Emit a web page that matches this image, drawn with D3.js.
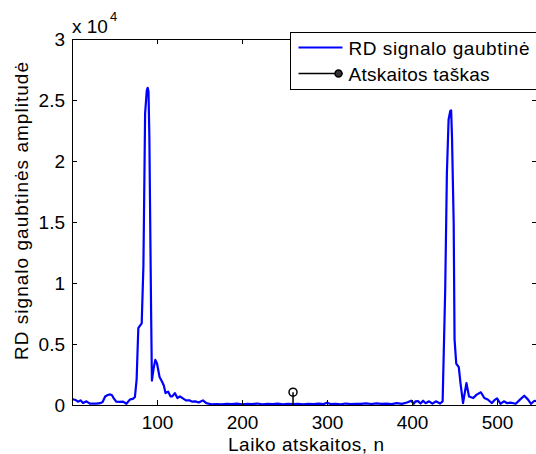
<!DOCTYPE html>
<html>
<head>
<meta charset="utf-8">
<script src="https://cdn.jsdelivr.net/npm/d3@7"></script>
<style>
  body { margin: 0; background: #fff; }
  svg { display: block; font-family: "Liberation Sans", Arial, sans-serif; }
</style>
</head>
<body>
<div id="chart"></div>
<script>
// sample index n and RD envelope amplitude
const sampleIndex = [0, 2, 4, 7, 10, 13, 17, 21, 25, 29, 33, 36, 39, 42, 45, 47, 49, 52, 56, 60, 64, 68, 72, 74, 76, 78, 80, 82, 84, 86, 88, 89, 90, 91, 92, 93, 94, 96, 98, 100, 103, 106, 108, 110, 113, 116, 118, 121, 124, 127, 130, 134, 138, 141, 145, 149, 154, 158, 164, 170, 176, 182, 188, 194, 200, 206, 212, 218, 224, 230, 236, 242, 248, 254, 260, 266, 272, 278, 284, 290, 296, 300, 304, 310, 316, 322, 328, 334, 340, 346, 352, 358, 364, 370, 376, 382, 388, 394, 399, 402, 404, 407, 410, 413, 416, 420, 424, 428, 433, 436, 439, 441, 443, 445, 446, 447, 449, 450, 452, 455, 457, 460, 464, 467, 472, 476, 481, 485, 489, 494, 497, 500, 504, 508, 512, 516, 522, 527, 532, 536, 540, 544, 547];
const amplitude = [500, 450, 420, 270, 380, 160, 300, 110, 120, 110, 150, 250, 700, 820, 870, 800, 560, 270, 250, 280, 100, 440, 520, 650, 2070, 6300, 6500, 6700, 11400, 23900, 25800, 26000, 25700, 22000, 15000, 8000, 2000, 3000, 3700, 3400, 2300, 1900, 1600, 980, 1100, 700, 700, 980, 570, 700, 560, 380, 380, 280, 300, 200, 380, 150, 60, 80, 60, 100, 70, 110, 60, 90, 70, 120, 60, 90, 80, 110, 60, 100, 70, 90, 60, 100, 80, 110, 70, 180, 80, 100, 60, 120, 80, 100, 90, 140, 80, 130, 90, 110, 70, 150, 90, 200, 350, 100, 300, 320, 120, 350, 150, 300, 110, 300, 120, 300, 9400, 19000, 23400, 24100, 24150, 22000, 14900, 5400, 3400, 3100, 1800, 160, 1800, 700, 570, 850, 1040, 570, 450, 160, 400, 550, 100, 300, 150, 200, 100, 440, 760, 480, 100, 350, 300];

// reference sample (stem)
const refSample = [260];
const refValue = [1050];

const xTicks = [100, 200, 300, 400, 500];
const yTicks = [0, 5000, 10000, 15000, 20000, 25000, 30000];
const legendLabels = ['RD signalo gaubtinė', 'Atskaitos taškas'];
const legendWidths = [181, 141];

const width = 536, height = 454;
const margin = {top: 39, right: -1, bottom: 49, left: 72};
const fontSize = 19;

const svg = d3.select('#chart')
  .append('svg')
  .attr('width', width)
  .attr('height', height);

const x = d3.scaleLinear()
  .domain([0, 547])
  .range([margin.left, width - margin.right]);

const y = d3.scaleLinear()
  .domain([0, 30000])
  .range([height - margin.bottom, margin.top]);

svg.append('clipPath').attr('id', 'clip')
  .append('rect')
  .attr('x', margin.left).attr('y', margin.top)
  .attr('width', width - margin.right - margin.left)
  .attr('height', height - margin.bottom - margin.top);

// envelope line
const line = d3.line()
  .x((d, i) => x(sampleIndex[i]))
  .y(d => y(d));

svg.append('path')
  .datum(amplitude)
  .attr('clip-path', 'url(#clip)')
  .attr('fill', 'none')
  .attr('stroke', '#0000ff')
  .attr('stroke-width', 2.2)
  .attr('stroke-linejoin', 'round')
  .attr('d', line);

// stem
const stem = svg.append('g');
stem.selectAll('line')
  .data(refSample)
  .join('line')
  .attr('x1', d => x(d)).attr('x2', d => x(d))
  .attr('y1', y(0))
  .attr('y2', (d, i) => y(refValue[i]))
  .attr('stroke', '#000')
  .attr('stroke-width', 1.5);
stem.selectAll('circle')
  .data(refSample)
  .join('circle')
  .attr('cx', d => x(d))
  .attr('cy', (d, i) => y(refValue[i]))
  .attr('r', 4)
  .attr('fill', 'none')
  .attr('stroke', '#000')
  .attr('stroke-width', 1.5);

// axes: ticks pointing in, mirrored on top and right
const xAxis = g => g
  .attr('transform', `translate(0,${y(0)})`)
  .call(d3.axisBottom(x).tickValues(xTicks).tickSize(-5).tickPadding(11).tickSizeOuter(0))
  .call(h => h.selectAll('text').attr('font-size', fontSize).attr('fill', '#000').attr('dy', '0.71em'));

const yAxis = g => g
  .attr('transform', `translate(${margin.left},0)`)
  .call(d3.axisLeft(y).tickValues(yTicks).tickSize(-5).tickPadding(7).tickSizeOuter(0)
    .tickFormat(d => d3.format('~g')(d / 10000)))
  .call(h => h.selectAll('text').attr('font-size', fontSize).attr('fill', '#000'));

svg.append('g').call(xAxis);
svg.append('g').call(yAxis);

svg.append('g')
  .attr('transform', `translate(0,${y(30000)})`)
  .call(d3.axisTop(x).tickValues(xTicks).tickSize(-5).tickFormat('').tickSizeOuter(0));
svg.append('g')
  .attr('transform', `translate(${x(547)},0)`)
  .call(d3.axisRight(y).tickValues(yTicks).tickSize(-5).tickFormat('').tickSizeOuter(0));

svg.selectAll('.domain').attr('stroke', '#000').attr('stroke-width', 1);

// exponent label
const expo = svg.append('text')
  .attr('x', margin.left)
  .attr('y', 33)
  .attr('font-size', fontSize);
expo.append('tspan').text('x 10');
expo.append('tspan').attr('dx', 2).attr('dy', -12).attr('font-size', 13).text('4');

// axis titles
svg.append('text')
  .attr('x', 306)
  .attr('y', 451)
  .attr('text-anchor', 'middle')
  .attr('font-size', fontSize)
  .attr('textLength', 156)
  .attr('lengthAdjust', 'spacing')
  .text('Laiko atskaitos, n');

svg.append('text')
  .attr('transform', `translate(28,211) rotate(-90)`)
  .attr('text-anchor', 'middle')
  .attr('font-size', fontSize)
  .attr('textLength', 298)
  .attr('lengthAdjust', 'spacing')
  .text('RD signalo gaubtinės amplitudė');

// legend
const legend = svg.append('g').attr('transform', 'translate(290.5,32.5)');
legend.append('rect')
  .attr('width', 246).attr('height', 57)
  .attr('fill', '#fff').attr('stroke', '#000').attr('stroke-width', 1);

const rows = legend.selectAll('g.row')
  .data(legendLabels)
  .join('g')
  .attr('class', 'row')
  .attr('transform', (d, i) => `translate(0,${15 + i * 26})`);

rows.append('line')
  .attr('x1', 8).attr('x2', 52)
  .attr('stroke', (d, i) => i === 0 ? '#0000ff' : '#000')
  .attr('stroke-width', (d, i) => i === 0 ? 2 : 1.5);
rows.filter((d, i) => i === 1)
  .append('circle')
  .attr('cx', 48).attr('r', 3.5)
  .attr('fill', '#333').attr('stroke', '#000').attr('stroke-width', 1.5);
rows.append('text')
  .attr('x', 58)
  .attr('y', 7)
  .attr('font-size', fontSize)
  .attr('textLength', (d, i) => legendWidths[i])
  .attr('lengthAdjust', 'spacing')
  .text(d => d);
</script>
</body>
</html>
